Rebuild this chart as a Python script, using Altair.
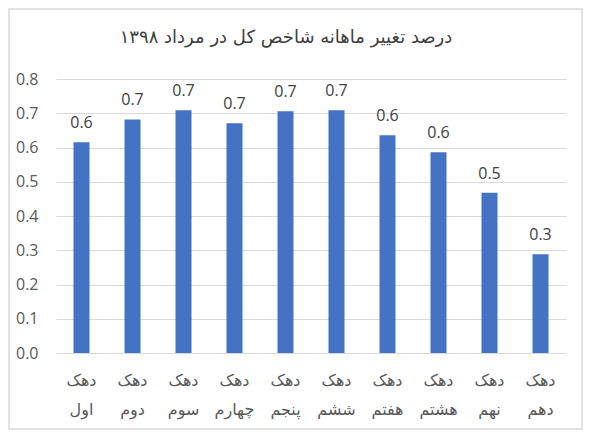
import altair as alt
import pandas as pd

categories = ["دهک اول", "دهک دوم", "دهک سوم", "دهک چهارم", "دهک پنجم",
              "دهک ششم", "دهک هفتم", "دهک هشتم", "دهک نهم", "دهک دهم"]
values = [0.615, 0.682, 0.709, 0.671, 0.706, 0.709, 0.636, 0.586, 0.468, 0.288]
y_ticks = [0.0, 0.1, 0.2, 0.3, 0.4, 0.5, 0.6, 0.7, 0.8]
title_text = "درصد تغییر ماهانه شاخص کل در مرداد ۱۳۹۸"

df = pd.DataFrame({"cat": categories, "val": values})

x = alt.X("cat:N", sort=categories, title=None,
          scale=alt.Scale(paddingInner=0.686, paddingOuter=0.343),
          axis=alt.Axis(labelAngle=0, domain=False, ticks=False,
                        labelExpr="split(datum.label, ' ')",
                        labelFont="DejaVu Sans", labelFontSize=16,
                        labelColor="#595959", labelLineHeight=29,
                        labelPadding=19, labelBaseline="top"))
y = alt.Y("val:Q", title=None,
          scale=alt.Scale(domain=[0, 0.8], nice=False),
          axis=alt.Axis(values=y_ticks, format=".1f", domain=False, ticks=False,
                        labelFont="Open Sans", labelFontSize=16,
                        labelColor="#595959", labelPadding=18,
                        gridColor="#d9d9d9", gridWidth=1))

base = alt.Chart(df)

frame = alt.Chart(pd.DataFrame({"k": [0]})).mark_rect(
    fill="transparent", stroke="#d9d9d9", strokeWidth=1.5
).encode(x=alt.value(-47), x2=alt.value(526), y=alt.value(-70), y2=alt.value(350))

title = alt.Chart(pd.DataFrame({"t": [title_text]})).mark_text(
    font="DejaVu Sans", fontSize=18, color="#404040", align="center",
    baseline="alphabetic"
).encode(x=alt.value(230), y=alt.value(-36), text="t:N")

bars = base.mark_bar(color="#4472c4", width=16).encode(x=x, y=y)

labels = base.mark_text(
    dy=-14, baseline="alphabetic", font="Open Sans", fontSize=16, color="#404040"
).encode(x=x, y=y, text=alt.Text("val:Q", format=".1f"))

chart = alt.layer(frame, title, bars, labels).properties(
    width=510, height=274,
    padding={"left": 48, "top": 71, "right": 17, "bottom": 77},
    autosize=alt.AutoSizeParams(type="none"),
).configure_view(stroke=None)

chart.save("out.html", embed_options={"renderer": "svg", "actions": False})
